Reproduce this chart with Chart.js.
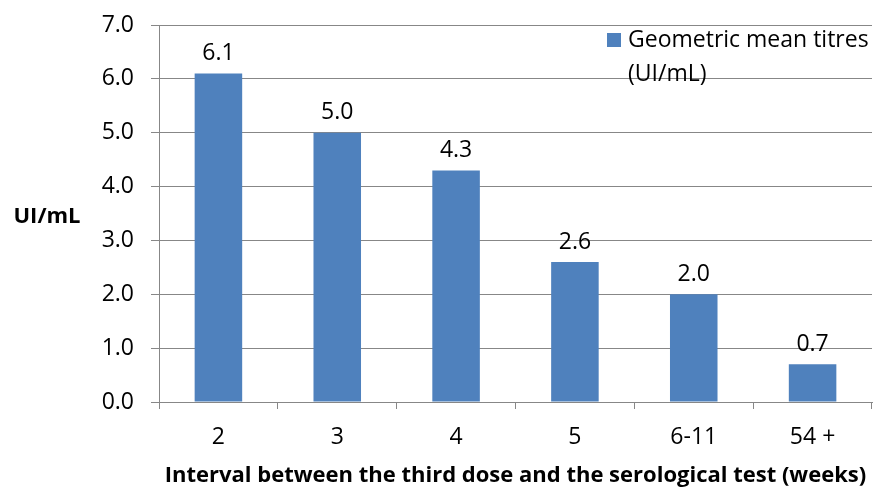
<!DOCTYPE html>
<html><head><meta charset="utf-8">
<script src="https://cdn.jsdelivr.net/npm/chart.js@4"></script>
<style>html,body{margin:0;padding:0;background:#fff}#wrap{width:877px;height:489px}</style>
</head><body><div id="wrap"><canvas id="c" width="877" height="489"></canvas></div>
<script>
const categories = ["2", "3", "4", "5", "6-11", "54 +"];
const values = [6.1, 5.0, 4.3, 2.6, 2.0, 0.7];
const seriesName = ["Geometric mean titres", "(UI/mL)"];
const yTitle = "UI/mL";
const xTitle = "Interval between the third dose and the serological test (weeks)";
const FONT = "'Open Sans'";
const GRID = "#878787";
const BAR = "#4F81BD";

const extras = {
  id: "extras",
  afterDatasetsDraw(chart) {
    const ctx = chart.ctx;
    const meta = chart.getDatasetMeta(0);
    ctx.save();
    ctx.fillStyle = "#000";
    ctx.font = "23px " + FONT;
    ctx.textAlign = "center";
    ctx.textBaseline = "middle";
    meta.data.forEach((bar, i) => {
      ctx.fillText(values[i].toFixed(1), bar.x, bar.y - 20);
    });
    // legend
    ctx.fillStyle = BAR;
    ctx.fillRect(607, 33, 14, 14);
    ctx.fillStyle = "#000";
    ctx.textAlign = "left";
    ctx.fillText(seriesName[0], 628, 40);
    ctx.fillText(seriesName[1], 628, 74);
    // y title
    ctx.font = "bold 22px " + FONT;
    ctx.textAlign = "center";
    ctx.fillText(yTitle, 47, 217);
    ctx.restore();
  }
};

new Chart(document.getElementById("c"), {
  type: "bar",
  data: {
    labels: categories,
    datasets: [{ label: seriesName.join(" "), data: values, backgroundColor: BAR,
      barPercentage: 0.4, categoryPercentage: 1.0 }]
  },
  options: {
    responsive: false, animation: false,
    layout: { padding: { left: 0, right: 5, top: 25, bottom: 0 } },
    plugins: { legend: { display: false }, tooltip: { enabled: false } },
    scales: {
      x: {
        offset: true,
        grid: { display: true, drawOnChartArea: false, offset: true, color: GRID, tickLength: 7, lineWidth: 1 },
        border: { color: GRID },
        ticks: { color: "#000", font: { family: FONT, size: 23 }, padding: 15 },
        title: { display: true, text: xTitle, color: "#000", font: { family: FONT, size: 22, weight: "bold", lineHeight: 1 }, padding: { top: 4, bottom: 2 } },
        afterFit(s) { s.height = 87; }
      },
      y: {
        min: 0, max: 7,
        ticks: { stepSize: 1, color: "#000", font: { family: FONT, size: 23 }, padding: 17,
          callback: v => v.toFixed(1) },
        grid: { color: GRID, tickLength: 8 },
        border: { color: GRID },
        afterFit(s) { s.width = 159; s.paddingTop = 0; s.paddingBottom = 0; }
      }
    }
  },
  plugins: [extras]
});
</script></body></html>
